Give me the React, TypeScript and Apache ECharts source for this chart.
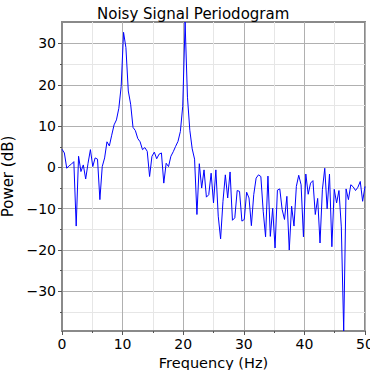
import React, { useEffect, useRef } from "react";
import * as echarts from "echarts";

// Periodogram: 256-point FFT at fs = 100 Hz -> 129 one-sided bins
const sampleRate = 100;
const fftLength = 256;
const powerDb = [
  4.4, 3.5, -0.2, 0.4, 0.8, 1.4, -14.2, 2.7, -1.0, 0.6,
  -2.8, 1.0, 4.3, 0.2, 2.3, 2.0, -7.8, 0.2, 2.3, 6.2,
  5.2, 7.8, 10.3, 11.5, 14.3, 19.6, 32.7, 29.0, 18.5, 15.3,
  9.7, 8.9, 7.0, 6.2, 4.3, 4.8, 3.9, -2.2, 2.7, 3.7,
  2.1, 3.2, 3.5, -3.8, 1.0, 0.2, 2.7, 3.8, 5.1, 6.3,
  8.7, 14.8, 35.2, 17.0, 9.0, 4.5, 2.0, -11.4, 0.9, -5.0,
  -0.6, -7.2, -6.6, -1.4, -8.6, -0.6, -11.8, -17.3, -8.2, -1.8,
  -7.4, -1.1, -12.8, -12.2, -5.6, -5.8, -13.0, -12.6, -6.0, -7.4,
  -14.1, -6.6, -2.6, -1.8, -2.2, -10.6, -16.8, -2.1, -16.7, -9.9,
  -19.5, -5.5, -5.2, -10.2, -12.6, -7.0, -20.0, -9.4, -14.2, -4.6,
  -1.9, -4.2, -16.8, -1.6, -6.5, -3.8, -3.2, -11.4, -7.5, -18.3,
  -5.4, -0.2, -10.0, -1.6, -19.2, -5.3, -8.6, -5.6, -14.4, -39.6,
  -5.2, -7.8, -4.2, -4.7, -5.6, -4.8, -3.4, -8.2, -4.6,
];
const xMajorTicks = [0, 10, 20, 30, 40, 50];
const yMajorTicks = [-30, -20, -10, 0, 10, 20, 30];
const yMinorTicks = [-35, -25, -15, -5, 5, 15, 25];
const yMin = -39.6;
const yMax = 35.2;

const FONT = "DejaVu Sans";
const fmt = (v: number) => (v < 0 ? "\u2212" + Math.abs(v) : String(v));

export default function App() {
  const ref = useRef<HTMLDivElement>(null);
  useEffect(() => {
    document.body.style.margin = "0";
    const chart = echarts.init(ref.current!, null, { renderer: "svg" });
    const df = sampleRate / fftLength;
    const points = powerDb.map((p, i) => [i * df, p]);
    chart.setOption({
      animation: false,
      title: {
        text: "Noisy Signal Periodogram",
        left: 92,
        top: 1,
        textStyle: { fontFamily: FONT, fontSize: 15, fontWeight: "normal", color: "#000" },
      },
      grid: {
        left: 62,
        right: 5,
        top: 22,
        bottom: 39,
        show: true,
        borderColor: "#8a8a8a",
        borderWidth: 2,
        containLabel: false,
        outerBoundsMode: "none",
      },
      xAxis: [
        {
          type: "value",
          min: xMajorTicks[0],
          max: xMajorTicks[xMajorTicks.length - 1],
          interval: 10,
          name: "Frequency (Hz)",
          nameLocation: "middle",
          nameGap: 24,
          nameTextStyle: { fontFamily: FONT, fontSize: 14.5, color: "#000" },
          axisLine: { show: true, onZero: false, lineStyle: { color: "#8a8a8a", width: 2 } },
          axisTick: { show: true, length: 4, lineStyle: { color: "#555" } },
          minorTick: { show: true, splitNumber: 2, length: 2, lineStyle: { color: "#555" } },
          splitLine: { show: true, lineStyle: { color: "#b0b0b0", width: 1 } },
          minorSplitLine: { show: true, lineStyle: { color: "#e6e6e6", width: 1 } },
          axisLabel: { fontFamily: FONT, fontSize: 14, color: "#000", margin: 6, formatter: fmt },
        },
      ],
      yAxis: [
        {
          type: "value",
          min: yMin,
          max: yMax,
          position: "left",
          name: "Power (dB)",
          nameLocation: "middle",
          nameGap: 41,
          nameTextStyle: { fontFamily: FONT, fontSize: 15, color: "#000" },
          axisLine: { show: true, onZero: false, lineStyle: { color: "#8a8a8a", width: 2 } },
          axisTick: { show: true, length: 4, customValues: yMajorTicks, lineStyle: { color: "#555" } },
          splitLine: { show: true, lineStyle: { color: "#b0b0b0", width: 1 } },
          axisLabel: {
            fontFamily: FONT,
            fontSize: 14,
            color: "#000",
            margin: 6,
            customValues: yMajorTicks,
            formatter: fmt,
          },
        },
        {
          type: "value",
          min: yMin,
          max: yMax,
          position: "left",
          axisLine: { show: false },
          axisLabel: { show: false, customValues: yMinorTicks },
          axisTick: { show: true, length: 2, customValues: yMinorTicks, lineStyle: { color: "#555" } },
          splitLine: { show: true, lineStyle: { color: "#e6e6e6", width: 1 } },
        },
      ],
      series: [
        {
          type: "line",
          xAxisIndex: 0,
          yAxisIndex: 0,
          data: points,
          showSymbol: false,
          lineStyle: { color: "#0000ff", width: 1 },
          z: 5,
        },
      ],
    });
    return () => chart.dispose();
  }, []);
  return <div ref={ref} style={{ width: 370, height: 370 }} />;
}
